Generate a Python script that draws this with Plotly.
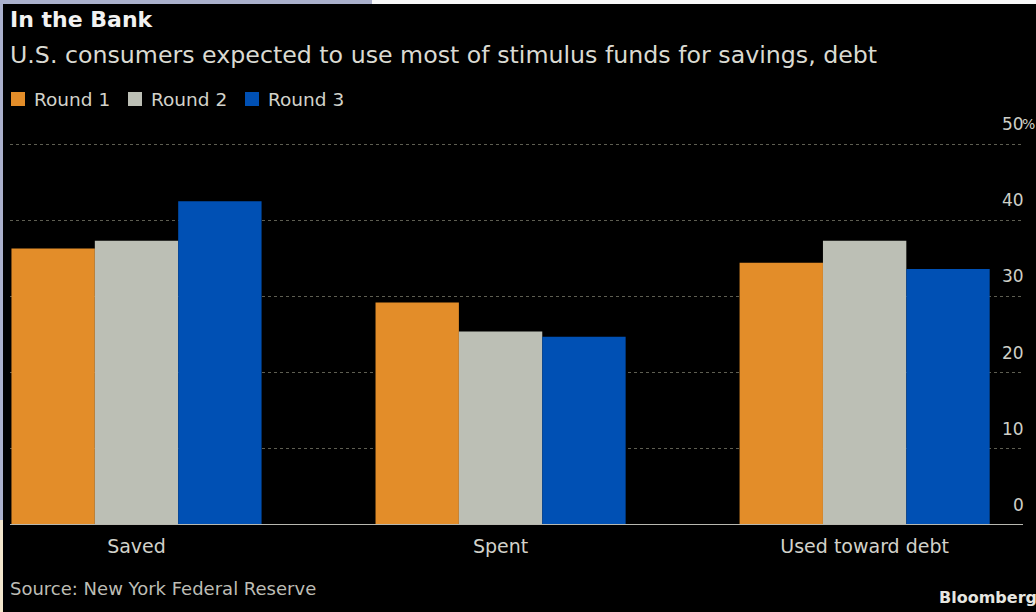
import plotly.graph_objects as go

# ---- data ----
categories = ["Saved", "Spent", "Used toward debt"]
series_names = ["Round 1", "Round 2", "Round 3"]
round1 = [36.3, 29.2, 34.4]
round2 = [37.3, 25.4, 37.3]
round3 = [42.5, 24.7, 33.6]
tick_vals = [0, 10, 20, 30, 40, 50]
tick_text = ["0", "10", "20", "30", "40", "50"]

colors = ["#E38D29", "#BCBFB5", "#0050B4"]

W, H = 1036, 612
ML, MR, MT, MB = 10, 13, 136, 87
PW = W - ML - MR
PH = H - MT - MB
Y_TOP = PH / 7.62


def px(x):
    return (x - ML) / PW


def py(y):
    return (H - MB - y) / PH


FONT = "DejaVu Sans"

fig = go.Figure()
for name, vals, col in zip(series_names, [round1, round2, round3], colors):
    fig.add_trace(go.Bar(
        x=categories, y=vals, name=name,
        marker=dict(color=col, line=dict(width=0)),
        showlegend=False,
    ))

annotations = [
    dict(text="<b>In the Bank</b>", x=px(9), y=py(20), xanchor="left", yanchor="middle",
         font=dict(size=22, color="#F2F2F2", family=FONT)),
    dict(text="U.S. consumers expected to use most of stimulus funds for savings, debt",
         x=px(9), y=py(55), xanchor="left", yanchor="middle",
         font=dict(size=23.7, color="#DADAD2", family=FONT)),
    dict(text="Source: New York Federal Reserve", x=px(9), y=py(588), xanchor="left",
         yanchor="middle", font=dict(size=18, color="#BDBDB5", family=FONT)),
    dict(text="<b>Bloomberg</b>", x=px(1038), y=py(597), xanchor="right", yanchor="middle",
         font=dict(size=16, color="#E6E6E0", family=FONT)),
]
for v, t in zip(tick_vals, tick_text):
    annotations.append(dict(text=t, x=px(1025), xref="paper", y=v, yref="y",
                            xanchor="right", yanchor="middle", yshift=20,
                            font=dict(size=17, color="#CFCFC7", family=FONT)))
annotations.append(dict(text="%", x=px(1021), xref="paper", y=tick_vals[-1], yref="y",
                        xanchor="left", yanchor="middle", yshift=20,
                        font=dict(size=14, color="#CFCFC7", family=FONT)))

# manual legend (positions in pixels)
legend_x = [11, 128, 245]
shapes = []
for name, col, lx in zip(series_names, colors, legend_x):
    shapes.append(dict(type="rect", xref="paper", yref="paper",
                       x0=px(lx), x1=px(lx + 14), y0=py(92), y1=py(106),
                       fillcolor=col, line=dict(width=0)))
    annotations.append(dict(text=name, x=px(lx + 22), y=py(99), xanchor="left",
                            yanchor="middle", font=dict(size=18.5, color="#D2D2CA", family=FONT)))

for a in annotations:
    a.setdefault("xref", "paper")
    a.setdefault("yref", "paper")
    a["showarrow"] = False
    a["borderpad"] = 0

shapes += [
    # baseline
    dict(type="line", xref="paper", yref="y", x0=0, x1=1, y0=0, y1=0,
         line=dict(color="#B8B8B0", width=2), layer="above"),
    # frame strips
    dict(type="rect", xref="paper", yref="paper", x0=px(0), x1=px(372), y0=py(0), y1=py(4),
         fillcolor="#AAB0CC", line=dict(width=0)),
    dict(type="rect", xref="paper", yref="paper", x0=px(372), x1=px(1036), y0=py(0), y1=py(4),
         fillcolor="#F8F8F8", line=dict(width=0)),
    dict(type="rect", xref="paper", yref="paper", x0=px(0), x1=px(3), y0=py(0), y1=py(520),
         fillcolor="#AAB0CC", line=dict(width=0)),
    dict(type="rect", xref="paper", yref="paper", x0=px(0), x1=px(3), y0=py(520), y1=py(612),
         fillcolor="#F2E6CC", line=dict(width=0)),
]

fig.update_layout(
    width=W, height=H,
    margin=dict(l=ML, r=MR, t=MT, b=MB, autoexpand=False),
    paper_bgcolor="#000000", plot_bgcolor="#000000",
    barmode="group", bargap=0.313, bargroupgap=0,
    showlegend=False,
    xaxis=dict(range=[-0.3475, 2.435], showgrid=False, zeroline=False, showline=False,
               ticks="outside", ticklen=4, tickcolor="rgba(0,0,0,0)",
               tickfont=dict(size=19, color="#D2D2CA", family=FONT)),
    yaxis=dict(range=[0, Y_TOP], tickvals=tick_vals, showticklabels=False, showgrid=True,
               gridcolor="#5E5E52", griddash="dot", gridwidth=1, zeroline=False,
               showline=False, ticks=""),
    annotations=annotations, shapes=shapes,
)

fig.write_html("out.html")
